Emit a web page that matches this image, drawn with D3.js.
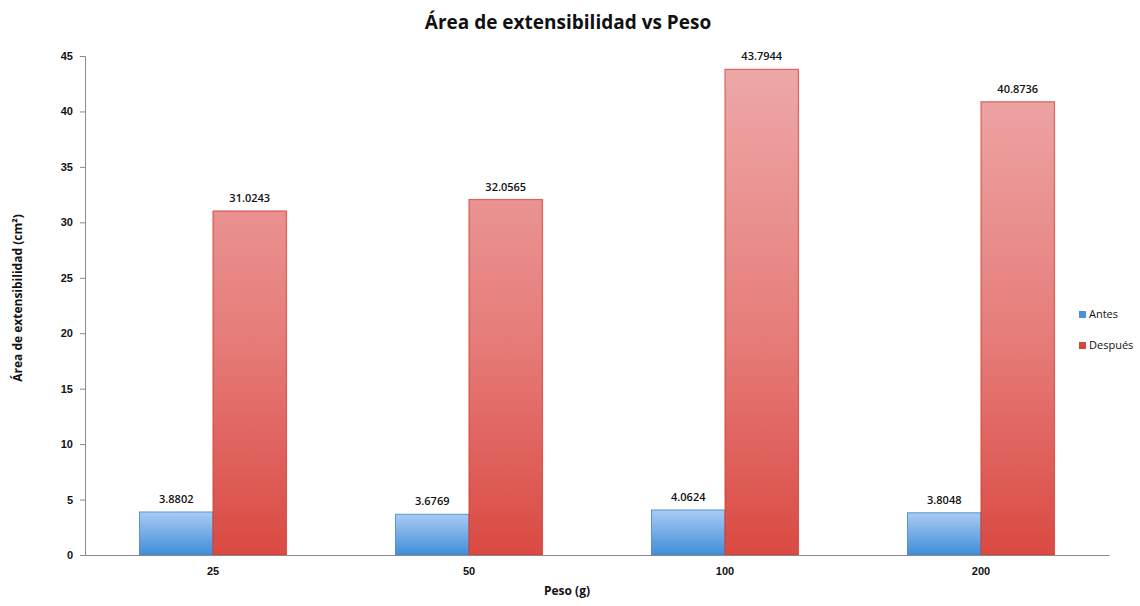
<!DOCTYPE html>
<html>
<head>
<meta charset="utf-8">
<script src="https://cdn.jsdelivr.net/npm/d3@7"></script>
<style>
  html, body { margin: 0; padding: 0; background: #fff; }
  svg { display: block; font-family: "Open Sans", "Noto Sans", sans-serif; }
</style>
</head>
<body>
<svg id="chart" width="1140" height="606"></svg>
<script>
// Data
const categories = ["25", "50", "100", "200"];
const seriesNames = ["Antes", "Después"];
const antes = [3.8802, 3.6769, 4.0624, 3.8048];
const despues = [31.0243, 32.0565, 43.7944, 40.8736];
const yTicks = [0, 5, 10, 15, 20, 25, 30, 35, 40, 45];

const svg = d3.select("#chart");
const margin = { left: 85, right: 31, top: 56, bottom: 51 };
const W = 1140, H = 606;

const x = d3.scaleBand().domain(categories).range([margin.left, W - margin.right]).paddingInner(0).paddingOuter(0);
const xs = d3.scaleBand().domain(seriesNames).range([0, x.bandwidth()]).paddingInner(0).paddingOuter(0.742);
const y = d3.scaleLinear().domain([0, 45]).range([H - margin.bottom, margin.top]);

// Gradients
const defs = svg.append("defs");
const gBlue = defs.append("linearGradient").attr("id", "gradBlue").attr("x1", 0).attr("y1", 0).attr("x2", 0).attr("y2", 1);
gBlue.append("stop").attr("offset", "0%").attr("stop-color", "#a9cbf3");
gBlue.append("stop").attr("offset", "100%").attr("stop-color", "#3f8dd8");
const gRed = defs.append("linearGradient").attr("id", "gradRed").attr("x1", 0).attr("x2", 0)
  .attr("gradientUnits", "userSpaceOnUse").attr("y1", y(45)).attr("y2", y(0));
gRed.append("stop").attr("offset", "0%").attr("stop-color", "#eeaaaa");
gRed.append("stop").attr("offset", "55%").attr("stop-color", "#e67e7b");
gRed.append("stop").attr("offset", "100%").attr("stop-color", "#da4a42");

// Y axis
const yAxis = svg.append("g").attr("transform", `translate(${margin.left},0)`)
  .call(d3.axisLeft(y).tickValues(yTicks).tickSize(5).tickPadding(7).tickFormat(d3.format("d")));
yAxis.select(".domain").attr("stroke", "#8a8a8a");
yAxis.selectAll(".tick line").attr("stroke", "#8a8a8a");
yAxis.selectAll(".tick text").attr("font-size", 11).attr("font-weight", 600).attr("fill", "#111");

// Bars
const groups = svg.append("g").selectAll("g").data(categories).join("g")
  .attr("transform", d => `translate(${x(d)},0)`);

groups.append("rect")
  .attr("x", xs("Antes")).attr("width", xs.bandwidth())
  .attr("y", (d, i) => y(antes[i])).attr("height", (d, i) => y(0) - y(antes[i]))
  .attr("fill", "url(#gradBlue)").attr("stroke", "#3b84cc").attr("stroke-width", 0.8);

groups.append("rect")
  .attr("x", xs("Después")).attr("width", xs.bandwidth())
  .attr("y", (d, i) => y(despues[i])).attr("height", (d, i) => y(0) - y(despues[i]))
  .attr("fill", "url(#gradRed)").attr("stroke", "#d0382f").attr("stroke-opacity", 0.7).attr("stroke-width", 1.2);

// Value labels
groups.append("text")
  .attr("x", xs("Antes") + xs.bandwidth() / 2).attr("y", (d, i) => y(antes[i]) - 9)
  .attr("text-anchor", "middle").attr("font-size", 11).attr("font-weight", 600).attr("fill", "#111")
  .text((d, i) => antes[i].toFixed(4));
groups.append("text")
  .attr("x", xs("Después") + xs.bandwidth() / 2).attr("y", (d, i) => y(despues[i]) - 9)
  .attr("text-anchor", "middle").attr("font-size", 11).attr("font-weight", 600).attr("fill", "#111")
  .text((d, i) => despues[i].toFixed(4));

// X axis
const xAxis = svg.append("g").attr("transform", `translate(0,${y(0)})`)
  .call(d3.axisBottom(x).tickSize(0).tickPadding(12));
xAxis.select(".domain").attr("stroke", "#8a8a8a");
xAxis.selectAll(".tick text").attr("font-size", 11).attr("font-weight", 600).attr("fill", "#111");

// Titles
svg.append("text").attr("x", 568).attr("y", 29).attr("text-anchor", "middle")
  .attr("font-size", 19).attr("font-weight", 700).attr("fill", "#111")
  .text("Área de extensibilidad vs Peso");
svg.append("text").attr("x", 567).attr("y", 595).attr("text-anchor", "middle")
  .attr("font-size", 12).attr("font-weight", 700).attr("fill", "#111")
  .text("Peso (g)");
svg.append("text").attr("transform", "translate(22,298) rotate(-90)").attr("text-anchor", "middle")
  .attr("font-size", 12).attr("font-weight", 700).attr("fill", "#111")
  .text("Área de extensibilidad (cm²)");

// Legend
const legend = svg.append("g").attr("transform", "translate(1079,318)");
const legendFill = ["#4a93dc", "#d9453e"];
seriesNames.forEach((s, i) => {
  const g = legend.append("g").attr("transform", `translate(0,${i * 31})`);
  g.append("rect").attr("x", 0).attr("y", -7).attr("width", 7).attr("height", 7).attr("fill", legendFill[i]);
  g.append("text").attr("x", 10).attr("y", 0).attr("font-size", 11).attr("fill", "#111").text(s);
});
</script>
</body>
</html>
